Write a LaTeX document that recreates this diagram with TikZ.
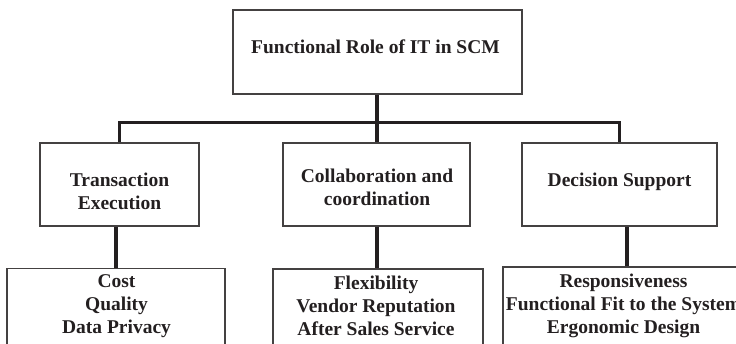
\documentclass[tikz,border=0pt]{standalone}
\usepackage{fontspec}
\setmainfont{Liberation Serif}
\definecolor{ink}{HTML}{231F20}
\begin{document}
\begin{tikzpicture}[x=1pt,y=-1pt,
  box/.style={draw=ink!85, line width=1.1pt, rectangle, inner sep=0pt, fill=none},
  lbl/.style={text=ink, font=\fontsize{19.5}{23.2}\selectfont\bfseries, align=center, inner sep=0pt},
  conn/.style={draw=ink, line width=3.6pt, line join=miter, line cap=butt}]
\useasboundingbox (0,0) rectangle (736,344);
\clip (0,0) rectangle (736,344);
% boxes
\node[box, minimum width=289pt, minimum height=84pt] (top) at (377.5,52) {};
\node[box, minimum width=159pt, minimum height=83pt] (trans) at (119.5,184.5) {};
\node[box, minimum width=187pt, minimum height=83pt] (collab) at (376.5,184.5) {};
\node[box, minimum width=195pt, minimum height=83pt] (dec) at (619.5,184.5) {};
\node[box, minimum width=218pt, minimum height=100pt] (b1) at (116,318.5) {};
\node[box, minimum width=210pt, minimum height=100pt] (b2) at (378,319) {};
\node[box, minimum width=248pt, minimum height=100pt] (b3) at (627,317) {};
% texts
\node[lbl] (ttop) at (375.5,47) {Functional Role of IT in SCM};
\node[lbl] (ttrans) at (119.5,191) {Transaction\\Execution};
\node[lbl] (tcollab) at (377,187.5) {Collaboration and\\coordination};
\node[lbl] (tdec) at (619.5,181.5) {Decision Support};
\node[lbl] (tb1) at (116.5,306) {Cost\\Quality\\Data Privacy};
\node[lbl] (tb2) at (376,306) {Flexibility\\Vendor Reputation\\After Sales Service};
\node[lbl] (tb3) at (623.5,306) {Responsiveness\\Functional Fit to the System\\Ergonomic Design};
% connectors
\coordinate (bus) at (377,122.7);
\draw[conn] (bus |- top.south) -- (bus |- collab.north);
\draw[conn] (trans.north) |- (bus) -| (dec.north);
\draw[conn] (b1.north) -- (b1.north |- trans.south);
\draw[conn] (bus |- collab.south) -- (bus |- b2.north);
\draw[conn] (b3.north) -- (b3.north |- dec.south);
\end{tikzpicture}
\end{document}
